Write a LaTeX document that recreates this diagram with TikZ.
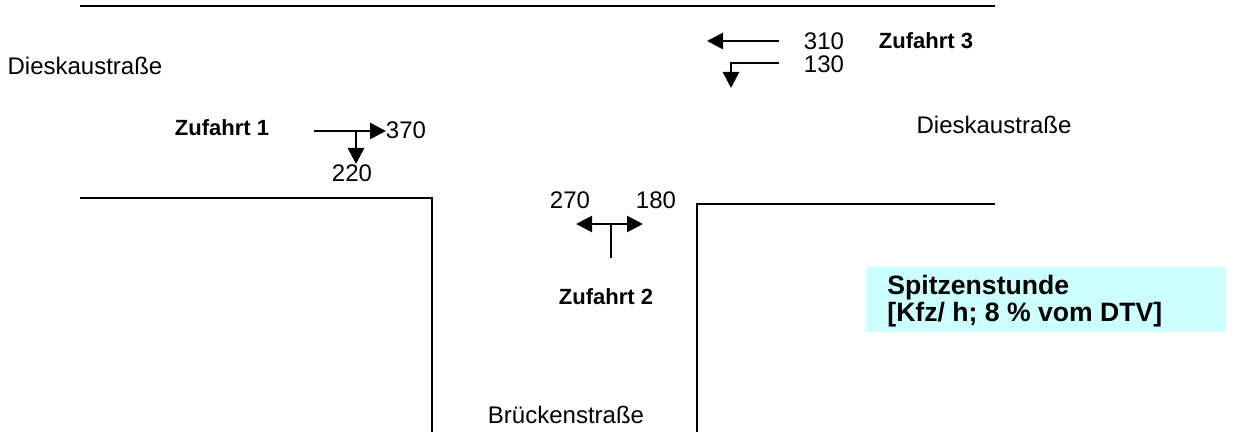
\documentclass[tikz,border=0pt]{standalone}
\usepackage{fontspec}
\setmainfont{Liberation Sans}
\usetikzlibrary{arrows.meta}
\definecolor{boxcyan}{HTML}{CCFFFF}
\begin{document}
\begin{tikzpicture}[x=0.5pt,y=-0.5pt,
 lbl/.style={font=\fontsize{12}{14}\selectfont, inner sep=0pt},
 zuf/.style={font=\fontsize{11}{13}\selectfont\bfseries, inner sep=0pt},
 road/.style={line width=1pt},
 tip/.tip={Triangle[length=8pt,width=8pt]},
 mv/.style={line width=1.4pt, -tip},
 mvline/.style={line width=1.4pt},
]
\useasboundingbox (0,0) rectangle (1248,432);
% roads
\draw[road] (80,6) -- (995,6);
\draw[road] (80,198) -- (432,198) -- (432,432);
\draw[road] (697,432) -- (697,204) -- (995,204);
% street names
\node[lbl] (d1) at (85,66) {Dieskaustraße};
\node[lbl] (d2) at (994,125) {Dieskaustraße};
\node[lbl] (br) at (566,415) {Brückenstraße};
% approaches
\node[zuf] (z1) at (222,128) {Zufahrt 1};
\node[zuf] (z2) at (606,297) {Zufahrt 2};
\node[zuf] (z3) at (926,41) {Zufahrt 3};
% volumes
\node[lbl] (n370) at (406,130) {370};
\node[lbl] (n220) at (352,173) {220};
\node[lbl] (n270) at (570,200) {270};
\node[lbl] (n180) at (656,200) {180};
\node[lbl] (n310) at (824,41) {310};
\node[lbl] (n130) at (824,64) {130};
% Zufahrt 1 arrows
\coordinate (a1s) at (314,131);
\coordinate (a1e) at (386,131);
\coordinate (a1b) at (356,131);
\coordinate (a1d) at (356,164);
\draw[mv] (a1s) -- (a1e);
\draw[mv] (a1b) -- (a1d);
% Zufahrt 2 arrows
\coordinate (tL) at (576,224);
\coordinate (tR) at (643,224);
\coordinate (tM) at (611,224);
\coordinate (tB) at (611,258);
\draw[mvline, tip-tip] (tL) -- (tR);
\draw[mvline] (tM) -- (tB);
% Zufahrt 3 arrows
\coordinate (r1s) at (779,41);
\coordinate (r1e) at (707,41);
\coordinate (r2s) at (779,63);
\coordinate (r2c) at (731,63);
\coordinate (r2e) at (731,88);
\draw[mv] (r1s) -- (r1e);
\draw[mv] (r2s) -- (r2c) -- (r2e);
% legend box
\node[fill=boxcyan, minimum width=180pt, minimum height=32.5pt, anchor=north west, inner sep=0pt] (box) at (866,267) {};
\node[anchor=west, align=left, inner sep=0pt, font=\fontsize{13.3}{12}\selectfont\bfseries] (boxtxt) at (887,301) {Spitzenstunde\\{[Kfz/ h; 8 \% vom DTV]}};
\end{tikzpicture}
\end{document}
